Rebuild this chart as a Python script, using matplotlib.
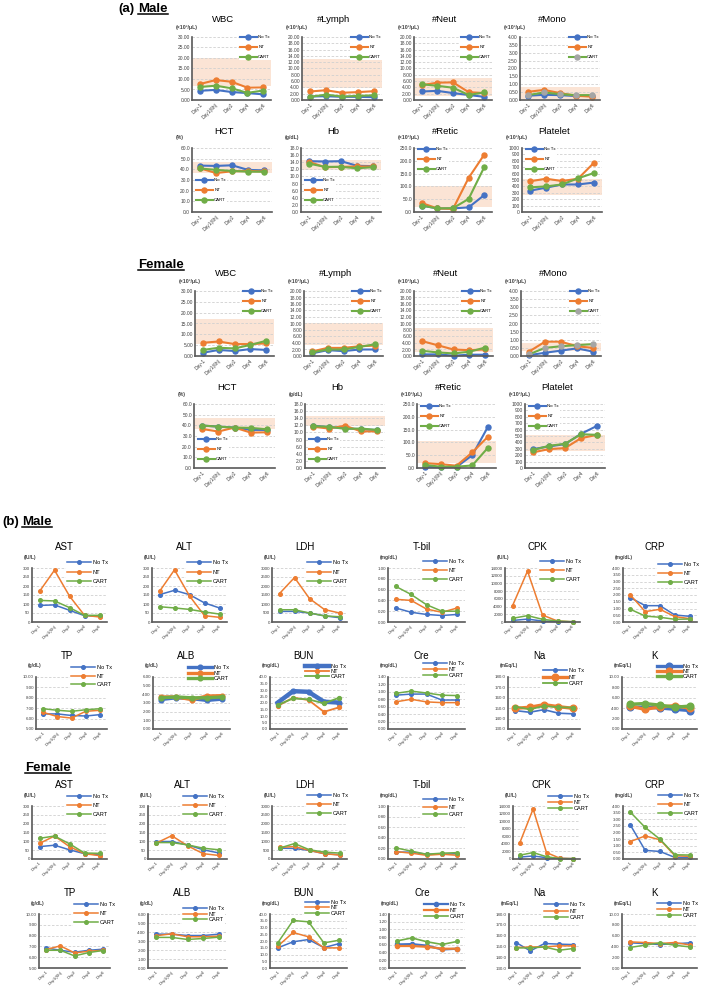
from matplotlib import pyplot
from matplotlib.lines import Line2D
from matplotlib.ticker import FormatStrFormatter
import numpy

pyplot.rcParams['font.family'] = ['Liberation Sans', 'DejaVu Sans']

W, H = 709, 988
DAYS = ['Day-1', 'Day1(6h)', 'Day2', 'Day4', 'Day6']
GROUPS = ['No Tx', 'NT', 'CART']
COLORS = ['#4472C4', '#ED7D31', '#70AD47']
BAND_COLOR = '#FBE4D5'
U3 = '(×10³/μL)'

# (a) Male, order: No Tx, NT, CART
am_wbc = ([4.4, 4.8, 3.8, 3.3, 2.7], [7.6, 9.5, 8.7, 5.9, 6.0], [6.2, 6.8, 5.6, 3.4, 4.5])
am_lymph = ([1.1, 1.2, 1.0, 1.0, 0.9], [2.7, 3.1, 2.3, 2.5, 2.8], [1.0, 1.7, 1.1, 1.3, 1.5])
am_neut = ([2.7, 2.9, 2.2, 1.6, 1.0], [4.7, 5.5, 5.6, 2.5, 2.2], [5.0, 4.5, 3.9, 1.6, 2.4])
am_mono = ([0.27, 0.33, 0.31, 0.25, 0.27], [0.52, 0.64, 0.44, 0.27, 0.21], [0.31, 0.48, 0.37, 0.31, 0.31])
am_hct = ([43.5, 43.2, 43.8, 39.5, 39.0], [41.0, 36.5, 38.2, 38.5, 38.0], [40.8, 39.5, 38.5, 37.8, 37.8])
am_hb = ([14.3, 14.2, 14.3, 13.0, 12.9], [14.1, 12.6, 12.7, 12.8, 12.8], [13.6, 12.7, 12.7, 12.3, 12.6])
am_retic = ([25, 14, 14, 18, 66], [35, 14, 12, 133, 224], [25, 14, 15, 51, 175])
am_plt = ([333, 380, 430, 430, 460], [480, 520, 484, 520, 770], [385, 400, 430, 526, 610])

# (a) Female
af_wbc = ([1.5, 2.8, 2.3, 3.2, 2.8], [6.1, 6.7, 5.5, 5.5, 5.8], [2.8, 3.8, 3.5, 5.1, 7.0])
af_lymph = ([0.8, 1.8, 1.5, 2.0, 2.0], [1.4, 2.5, 2.5, 3.0, 3.2], [1.1, 2.0, 2.0, 2.8, 3.6])
af_neut = ([0.5, 0.5, 0.1, 0.4, 0.4], [4.6, 3.3, 2.0, 1.8, 2.0], [1.6, 1.1, 0.8, 1.3, 2.6])
af_mono = ([0.05, 0.2, 0.33, 0.47, 0.27], [0.27, 0.88, 0.88, 0.6, 0.5], [0.1, 0.5, 0.6, 0.67, 0.73])
af_hct = ([39.8, 38.8, 37.9, 35.7, 35.7], [36.6, 34.2, 37.9, 33.2, 33.5], [39.8, 38.8, 37.9, 37.6, 36.3])
af_hb = ([11.9, 11.5, 11.2, 10.9, 10.7], [11.6, 11.1, 11.9, 10.3, 10.3], [11.75, 11.6, 11.0, 11.1, 10.7])
af_retic = ([5, 3, 4, 50, 162], [19, 15, 9, 61, 123], [12, 5, 5, 10, 80])
af_plt = ([295, 337, 373, 534, 658], [244, 295, 311, 466, 518], [280, 347, 378, 528, 518])

# reference ranges (shaded)
am_bands = [(6.8, 20.0), (3.7, 12.9), (1.3, 7.0), (0.06, 0.85),
            (36.6, 46.8), (11.9, 14.5), (20, 100), (265, 510)]
af_bands = [(5.5, 17.2), (3.3, 10.1), (1.3, 8.5), (0.28, 0.82),
            (36.6, 46.6), (11.7, 14.6), (19, 104), (270, 508)]

# (b) Male
bm_ast = ([92, 95, 65, 35, 33], [170, 288, 144, 37, 28], [120, 117, 80, 37, 37])
bm_alt = ([152, 176, 152, 106, 78], [170, 290, 145, 35, 26], [85, 78, 70, 56, 44])
bm_ldh = ([590, 590, 500, 340, 240], [1580, 2470, 1300, 690, 500], [680, 680, 500, 340, 290])
bm_tbil = ([0.26, 0.18, 0.14, 0.12, 0.14], [0.42, 0.40, 0.24, 0.18, 0.26], [0.66, 0.51, 0.32, 0.20, 0.20])
bm_cpk = ([400, 750, 250, 80, 30], [4200, 13200, 1800, 250, 50], [950, 1650, 700, 250, 80])
bm_crp = ([1.80, 1.21, 1.21, 0.52, 0.42], [2.0, 0.77, 0.94, 0.40, 0.25], [0.94, 0.44, 0.35, 0.20, 0.22])
bm_tp = ([6.45, 6.45, 6.3, 6.25, 6.38], [6.6, 6.2, 6.05, 6.7, 6.8], [6.95, 6.8, 6.7, 6.85, 6.95])
bm_alb = ([3.4, 3.6, 3.5, 3.3, 3.45], [3.7, 3.7, 3.4, 3.8, 3.85], [3.6, 3.7, 3.6, 3.6, 3.7])
bm_bun = ([20.3, 29.1, 28.6, 21.0, 20.3], [17.7, 24.1, 22.3, 13.2, 16.7], [18.5, 23.5, 22.8, 19.7, 24.1])
bm_cre = ([0.91, 0.94, 0.94, 0.78, 0.78], [0.73, 0.80, 0.73, 0.71, 0.71], [0.96, 1.02, 0.97, 0.91, 0.90])
bm_na = ([147.7, 146.1, 148.6, 145.2, 144.6], [149.9, 150.9, 153.4, 151.5, 149.9], [151.5, 148.9, 152.1, 150.9, 150.6])
bm_k = ([4.2, 4.2, 4.05, 3.8, 3.55], [4.4, 3.8, 4.2, 4.5, 4.0], [4.75, 4.9, 4.6, 4.2, 4.4])

# (b) Female
bf_ast = ([70, 78, 52, 30, 24], [88, 130, 70, 30, 19], [117, 130, 86, 34, 32])
bf_alt = ([99, 99, 80, 52, 34], [89, 132, 75, 30, 20], [93, 93, 80, 61, 52])
bf_ldh = ([615, 596, 484, 298, 242], [652, 708, 484, 298, 223], [615, 875, 521, 391, 335])
bf_tbil = ([0.13, 0.13, 0.09, 0.09, 0.10], [0.14, 0.11, 0.07, 0.09, 0.07], [0.21, 0.15, 0.09, 0.11, 0.12])
bf_cpk = ([500, 800, 350, 150, 80], [4200, 13200, 1700, 200, 80], [1000, 1700, 600, 90, 90])
bf_crp = ([2.56, 0.65, 0.57, 0.12, 0.12], [1.32, 1.74, 1.45, 0.25, 0.20], [3.53, 2.38, 1.49, 0.32, 0.30])
bf_tp = ([6.86, 6.64, 6.46, 6.64, 6.74], [6.71, 7.05, 6.40, 6.55, 6.64], [6.64, 6.64, 6.12, 6.43, 6.62])
bf_alb = ([3.76, 3.76, 3.61, 3.61, 3.76], [3.58, 3.80, 3.47, 3.47, 3.54], [3.40, 3.40, 3.17, 3.28, 3.43])
bf_bun = ([14.9, 19.4, 21.1, 15.1, 18.1], [16.1, 26.3, 23.1, 14.9, 14.9], [18.6, 35.2, 34.2, 18.6, 20.6])
bf_cre = ([0.61, 0.62, 0.58, 0.48, 0.50], [0.57, 0.57, 0.55, 0.50, 0.50], [0.70, 0.78, 0.68, 0.61, 0.69])
bf_na = ([153.6, 145.8, 152.7, 152.1, 151.7], [148.9, 149.5, 149.5, 150.5, 150.5], [148.6, 148.6, 149.5, 146.4, 148.0])
bf_k = ([4.66, 4.53, 4.35, 4.47, 4.66], [4.84, 4.72, 4.53, 4.72, 4.28], [3.79, 4.22, 4.66, 4.22, 3.91])

# panel definitions: title, unit, ymin, ymax, step, tick format
A_AXES = [('WBC', U3, 0, 30, 5, '%.2f'), ('#Lymph', U3, 0, 20, 2, '%.2f'),
          ('#Neut', U3, 0, 20, 2, '%.2f'), ('#Mono', U3, 0, 4, 0.5, '%.2f'),
          ('HCT', '(%)', 0, 60, 10, '%.1f'), ('Hb', '(g/dL)', 0, 18, 2, '%.1f'),
          ('#Retic', U3, 0, 250, 50, '%.1f'), ('Platelet', U3, 0, 1000, 100, '%d')]
B_AXES = [('AST', '(IU/L)', 0, 300, 50, '%d'), ('ALT', '(IU/L)', 0, 300, 50, '%d'),
          ('LDH', '(IU/L)', 0, 3000, 500, '%d'), ('T-bil', '(mg/dL)', 0, 1, 0.2, '%.2f'),
          ('CPK', '(IU/L)', 0, 14000, 2000, '%d'), ('CRP', '(mg/dL)', 0, 4, 0.5, '%.2f'),
          ('TP', '(g/dL)', 5, 10, 1, '%.2f'), ('ALB', '(g/dL)', 0, 6, 1, '%.2f'),
          ('BUN', '(mg/dL)', 0, 40, 5, '%.1f'), ('Cre', '(mg/dL)', 0, 1.4, 0.2, '%.2f'),
          ('Na', '(mEq/L)', 130, 180, 10, '%.1f'), ('K', '(mEq/L)', 0, 10, 2, '%.2f')]

STYLE_A = dict(lw=1.5, ms=3.6, leg_fs=3.2, hl=3.8, tick_fs=3.5, title_fs=6.8,
               title_dy=17, title_dx=8, unit_fs=3.7, unit_dx=16, unit_dy=10)
STYLE_B = dict(lw=1.1, ms=2.6, leg_fs=4.1, hl=4.2, tick_fs=3.2, title_fs=7.0,
               title_dy=21, title_dx=5, unit_fs=3.5, unit_dx=8, unit_dy=11)


def Px(l, t, r, b):
  return [l / W, 1 - b / H, (r - l) / W, (b - t) / H]


def Panel(fig, ext, axdef, data, style, leg, band=None, widths=None, grey_cart=False):
  l, t, r, b = ext
  title, unit, lo, hi, step, fmt = axdef
  ax = fig.add_axes(Px(l, t, r, b))
  x = numpy.arange(len(DAYS))
  if band is not None:
    ax.axhspan(band[0], band[1], color=BAND_COLOR, lw=0, zorder=0.5)
  handles = []
  for i, (name, vals, color) in enumerate(zip(GROUPS, data, COLORS)):
    lw, ms = (widths or {}).get(name, (style['lw'], style['ms']))
    mc = '#A5A5A5' if grey_cart and name == 'CART' else color
    h, = ax.plot(x, vals, '-o', color=color, lw=lw, ms=ms, mfc=mc, mec=mc,
                 zorder=2 + 0.1 * i, clip_on=False)
    handles.append(h)

  ax.set_xlim(-0.5, len(DAYS) - 0.5)
  ax.set_ylim(lo, hi)
  ax.set_yticks(numpy.arange(lo, hi + step / 2., step))
  ax.yaxis.set_major_formatter(FormatStrFormatter(fmt))
  ax.set_xticks(x)
  ax.set_xticklabels(DAYS, rotation=45, ha='right', rotation_mode='anchor')
  ax.tick_params(length=0, pad=1.5, labelsize=style['tick_fs'], colors='#404040')
  ax.yaxis.grid(True, color='#D0D0D0', lw=0.6, ls=(0, (3, 2)))
  ax.set_axisbelow(True)
  for s in ('top', 'right'):
    ax.spines[s].set_visible(False)
  for s in ('left', 'bottom'):
    ax.spines[s].set_color('#595959')
    ax.spines[s].set_linewidth(1.2)
  ax.patch.set_alpha(0)

  # legend: leg = (line start x, first entry centre y, spacing) in pixels
  fs = style['leg_fs']
  fpx = fs * 100 / 72.
  lx, ly, spacing = leg
  bp = 0.2
  ls = max(spacing / fpx - 1.15, 0.05)
  lg = ax.legend(handles, GROUPS, loc='upper left',
                 bbox_to_anchor=((lx - bp * fpx) / W,
                                 1 - (ly - 0.6 * fpx - bp * fpx) / H),
                 bbox_transform=fig.transFigure, fontsize=fs, labelspacing=ls,
                 handlelength=style['hl'], handletextpad=0.3, borderpad=bp,
                 borderaxespad=0, fancybox=False, framealpha=1,
                 facecolor='white', edgecolor='none')
  lg.get_frame().set_linewidth(0)

  cx = (l + r) / 2. - style['title_dx']
  fig.text(cx / W, 1 - (t - style['title_dy']) / H, title, ha='center',
           va='center', fontsize=style['title_fs'])
  fig.text((l - style['unit_dx']) / W, 1 - (t - style['unit_dy']) / H, unit,
           ha='left', va='center', fontsize=style['unit_fs'], fontweight='bold',
           color='#404040')
  return ax


def Header(fig, x_tag, x_word, baseline, tag, word, fs):
  if tag:
    fig.text(x_tag / W, 1 - baseline / H, tag, ha='left', va='baseline',
             fontsize=fs, fontweight='bold')
  t = fig.text(x_word / W, 1 - baseline / H, word, ha='left', va='baseline',
               fontsize=fs, fontweight='bold')
  fig.canvas.draw()
  bb = t.get_window_extent().transformed(fig.transFigure.inverted())
  y = 1 - (baseline + 1.8) / H
  fig.add_artist(Line2D([bb.x0, bb.x1], [y, y], transform=fig.transFigure,
                        color='black', lw=1.1))


def Run():
  fig = pyplot.figure(figsize=(W / 100., H / 100.), dpi=100)

  # ---- (a) blood counts ----
  rows_a = [
      (37, 100, [(192, 271), (302, 382), (414, 492), (520, 600)]),
      (148, 212, [(192, 272), (301, 381), (414, 492), (522, 602)]),
      (291, 356, [(195, 274), (304, 383), (414, 493), (521, 601)]),
      (404, 468, [(194, 275), (305, 385), (417, 496), (525, 605)]),
  ]
  male_a = [am_wbc, am_lymph, am_neut, am_mono, am_hct, am_hb, am_retic, am_plt]
  female_a = [af_wbc, af_lymph, af_neut, af_mono, af_hct, af_hb, af_retic, af_plt]
  for sex, (datas, bands) in enumerate(((male_a, am_bands), (female_a, af_bands))):
    for half in range(2):
      top, bottom, cols = rows_a[sex * 2 + half]
      for j, (l, r) in enumerate(cols):
        k = half * 4 + j
        if half == 0:
          leg = (r - 31, top + 1, 11)
        elif j < 2:
          leg = (l + 4, bottom - (31 if sex == 0 else 28), 11)
        else:
          leg = (l + 4, top + 2 + sex, 11)
        Panel(fig, (l, top, r, bottom), A_AXES[k], datas[k], STYLE_A, leg,
              band=bands[k], grey_cart=(k == 3))

  # ---- (b) biochemistry ----
  rows_b = [
      (568, 622, [(32, 107), (152, 227), (272, 347), (388, 465), (505, 580), (623, 697)]),
      (677, 729, [(36, 107), (153, 230), (270, 347), (388, 465), (508, 580), (622, 697)]),
      (806, 859, [(32, 107), (148, 227), (272, 347), (388, 465), (513, 580), (623, 697)]),
      (914, 968, [(39, 110), (148, 227), (270, 347), (389, 465), (509, 580), (622, 697)]),
  ]
  # legend offsets: (first entry dy from axes top, entry spacing)
  legs_b = [
      [(-5, 11.5), (-5, 11.5), (-5, 11.5), (-6, 11), (-6, 11), (-3, 11)],
      [(-9, 10.5), (-9, 7.5), (-10, 7), (-13, 8), (-6, 8.5), (-10, 7)],
      [(-9, 11), (-9, 11), (-10, 11), (-6, 9.5), (-9, 7.7), (-10, 11)],
      [(-9, 11), (-5, 7.5), (-11, 7.3), (-9, 7.7), (-9, 8.5), (-10, 8)],
  ]
  male_b = [bm_ast, bm_alt, bm_ldh, bm_tbil, bm_cpk, bm_crp,
            bm_tp, bm_alb, bm_bun, bm_cre, bm_na, bm_k]
  female_b = [bf_ast, bf_alt, bf_ldh, bf_tbil, bf_cpk, bf_crp,
              bf_tp, bf_alb, bf_bun, bf_cre, bf_na, bf_k]
  thick = {
      (0, 7): {g: (2.4, 3.4) for g in GROUPS},
      (0, 8): {'No Tx': (3.2, 3.4), 'NT': (1.3, 2.8), 'CART': (1.3, 2.8)},
      (0, 10): {'No Tx': (1.2, 2.6), 'NT': (2.4, 4.8), 'CART': (1.3, 2.8)},
      (0, 11): {g: (2.4, 4.8) for g in GROUPS},
      (1, 9): {'No Tx': (1.6, 3.0), 'NT': (1.6, 3.0), 'CART': (1.2, 2.6)},
  }
  for sex, datas in enumerate((male_b, female_b)):
    for half in range(2):
      top, bottom, cols = rows_b[sex * 2 + half]
      for j, (l, r) in enumerate(cols):
        k = half * 6 + j
        dy, sp = legs_b[sex * 2 + half][j]
        leg = (l + 35, top + dy, sp)
        Panel(fig, (l, top, r, bottom), B_AXES[k], datas[k], STYLE_B, leg,
              widths=thick.get((sex, k)))

  Header(fig, 118, 138, 12, '(a)', 'Male', 9.5)
  Header(fig, 0, 138, 268, None, 'Female', 9.5)
  Header(fig, 2, 22, 525, '(b)', 'Male', 9.5)
  Header(fig, 0, 25, 771, None, 'Female', 9.5)

  fig.savefig('out.png', dpi=100)


if __name__ == '__main__':
  Run()
